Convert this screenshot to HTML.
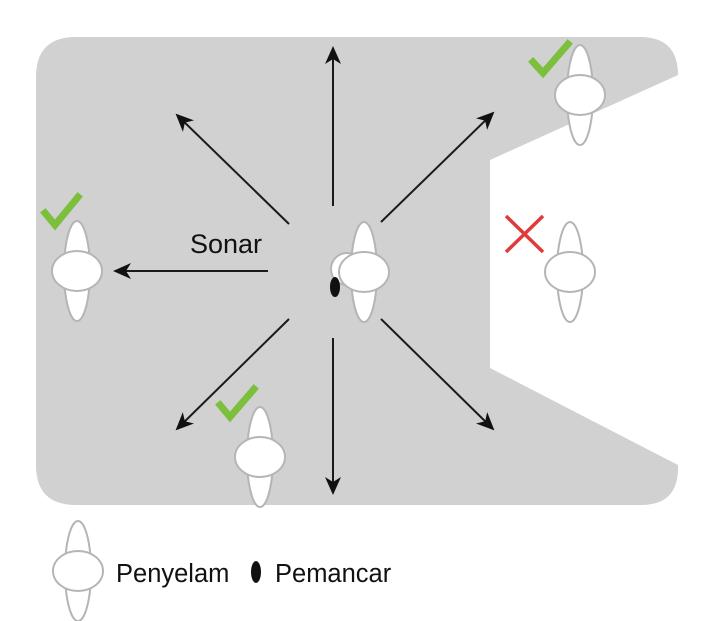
<!DOCTYPE html>
<html><head><meta charset="utf-8"><style>
html,body{margin:0;padding:0;background:#fff;width:703px;height:621px;overflow:hidden}
</style></head><body>
<svg width="703" height="621" viewBox="0 0 703 621" xmlns="http://www.w3.org/2000/svg">
<defs>
<marker id="ah" markerWidth="18" markerHeight="16" refX="16" refY="8" orient="auto" markerUnits="userSpaceOnUse" viewBox="0 0 18 16">
<path d="M0,0 L18,8 L0,16 L5,8 Z" fill="#111"/>
</marker>
<symbol id="diver" viewBox="-30 -52 60 104" overflow="visible">
<ellipse cx="0" cy="0" rx="13" ry="50" fill="#fff" stroke="#b5b5b5" stroke-width="2"/>
<ellipse cx="0" cy="0" rx="25" ry="20" fill="#fff" stroke="#b5b5b5" stroke-width="2"/>
</symbol>
</defs>
<path d="M76,37 H640 Q678,37 678,75 L490,160 V368 L678,465 V468 Q678,505 641,505 H76 Q36,505 36,465 V77 Q36,37 76,37 Z" fill="#d1d1d1"/>
<g stroke="#1a1a1a" stroke-width="2" marker-end="url(#ah)">
<line x1="333" y1="206" x2="333" y2="48"/>
<line x1="333" y1="338" x2="333" y2="493"/>
<line x1="268" y1="271" x2="115" y2="271"/>
<line x1="289" y1="224" x2="177" y2="115"/>
<line x1="381" y1="222" x2="493" y2="113"/>
<line x1="289" y1="319" x2="177" y2="429"/>
<line x1="381" y1="319" x2="493" y2="429"/>
</g>
<text x="190" y="253" font-family="Liberation Sans, sans-serif" font-size="27" fill="#111">Sonar</text>
<use href="#diver" x="47" y="219" width="60" height="104"/>
<ellipse cx="347" cy="269" rx="16" ry="16" fill="#fff" stroke="#b5b5b5" stroke-width="2"/>
<ellipse cx="335" cy="287" rx="5" ry="10" fill="#111"/>
<use href="#diver" x="334" y="220" width="60" height="104"/>
<use href="#diver" x="550" y="43" width="60" height="104"/>
<use href="#diver" x="540" y="220" width="60" height="104"/>
<use href="#diver" x="230" y="405" width="60" height="104"/>
<use href="#diver" x="48" y="519" width="60" height="104"/>
<g stroke="#7cbf3d" stroke-width="7" fill="none" stroke-linecap="square">
<path d="M45,213 L55,225 L78,197"/>
<path d="M533,62 L543,73 L568,44"/>
<path d="M220,405 L230,417 L254,389"/>
</g>
<g stroke="#e03a3a" stroke-width="3.5">
<line x1="506" y1="216" x2="543" y2="252"/>
<line x1="543" y1="216" x2="506" y2="252"/>
</g>
<text x="116" y="582" font-family="Liberation Sans, sans-serif" font-size="25.5" fill="#111">Penyelam</text>
<ellipse cx="256" cy="572" rx="5" ry="11" fill="#111"/>
<text x="275" y="582" font-family="Liberation Sans, sans-serif" font-size="25.5" fill="#111">Pemancar</text>
</svg>
</body></html>
